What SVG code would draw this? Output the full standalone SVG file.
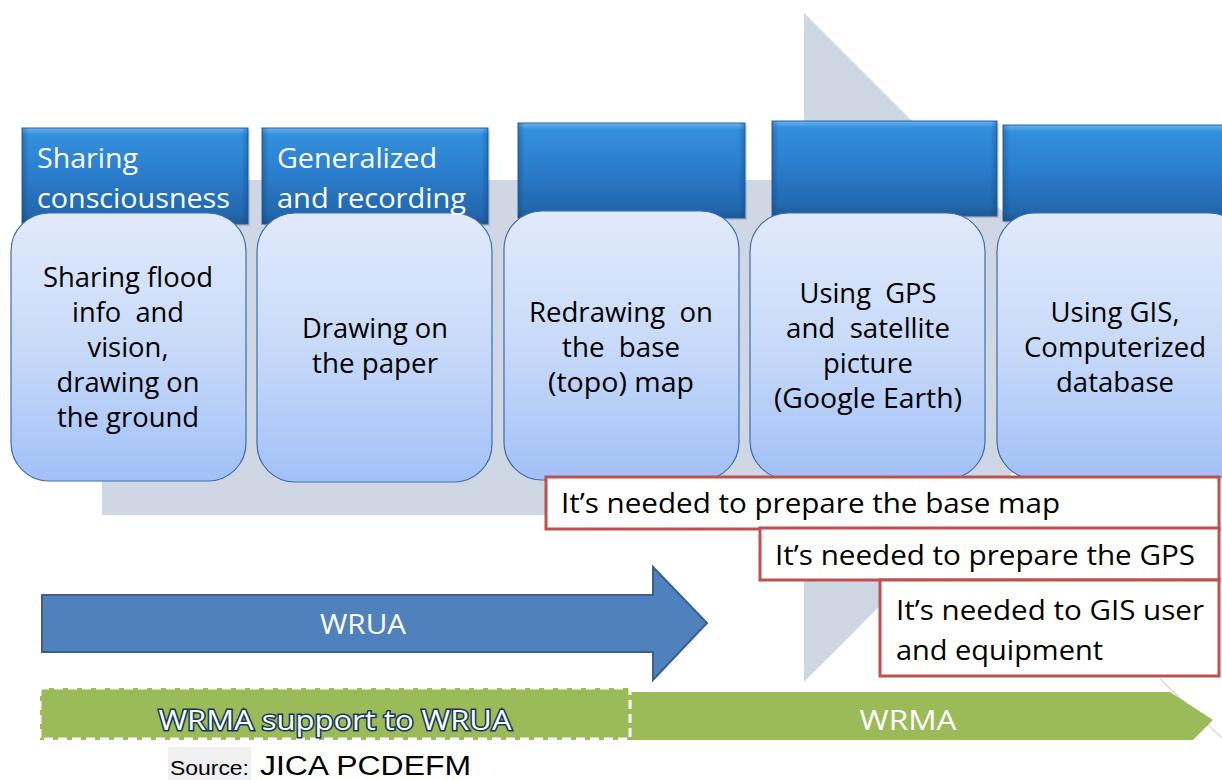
<svg xmlns="http://www.w3.org/2000/svg" width="1222" height="780" viewBox="0 0 1222 780">
<defs>
<linearGradient id="hdr" x1="0" y1="0" x2="0" y2="1">
<stop offset="0" stop-color="#6cb2ee"/>
<stop offset="0.07" stop-color="#3390de"/>
<stop offset="0.5" stop-color="#2a7ccb"/>
<stop offset="0.9" stop-color="#2267ad"/>
<stop offset="1" stop-color="#1c5895"/>
</linearGradient>
<linearGradient id="hedge" x1="0" y1="0" x2="1" y2="0">
<stop offset="0" stop-color="#0d3d70" stop-opacity="0.35"/>
<stop offset="0.03" stop-color="#0d3d70" stop-opacity="0"/>
<stop offset="0.97" stop-color="#0d3d70" stop-opacity="0"/>
<stop offset="1" stop-color="#0d3d70" stop-opacity="0.35"/>
</linearGradient>
<linearGradient id="card" x1="0" y1="0" x2="0" y2="1">
<stop offset="0" stop-color="#e1eafb"/>
<stop offset="0.5" stop-color="#c8daf9"/>
<stop offset="1" stop-color="#a2c1f8"/>
</linearGradient>
<style>
.hdr{fill:url(#hdr);stroke:#2465a8;stroke-width:1}
.hedge{fill:url(#hedge)}
.hsh{fill:#000;opacity:0.12}
.card{fill:url(#card);stroke:#3d6eae;stroke-width:1.2}
.ht{font-family:"Open Sans","Liberation Sans",sans-serif;font-size:28px;fill:#ffffff}
.ct{font-family:"Open Sans","Liberation Sans",sans-serif;font-size:27px;fill:#000;text-anchor:middle}
.red{fill:#fff;stroke:#c0504d;stroke-width:3}
.rt{font-family:"Open Sans","Liberation Sans",sans-serif;font-size:28px;fill:#000}
.wt{font-family:"Open Sans","Liberation Sans",sans-serif;font-size:28px;fill:#fff;text-anchor:middle}
</style>
</defs>
<rect width="1222" height="780" fill="#ffffff"/>
<g id="bg-arrow">
<polygon points="102,180 804,180 804,13 1138,347 804,682 804,515 102,515" fill="#cfd7e5"/>
</g>
<g id="step1">
<rect class="hsh" x="24" y="130" width="226" height="96"/>
<rect class="hdr" x="22" y="128" width="226" height="96"/>
<rect class="hedge" x="22" y="128" width="226" height="96"/>
<rect class="card" x="11" y="213" width="235" height="268" rx="38" ry="38"/>
<text class="ht" x="37" y="168" textLength="101" lengthAdjust="spacingAndGlyphs">Sharing</text>
<text class="ht" x="37" y="208" textLength="193" lengthAdjust="spacingAndGlyphs">consciousness</text>
<text class="ct" x="128" y="287" textLength="170" lengthAdjust="spacingAndGlyphs">Sharing flood</text>
<text class="ct" x="128" y="322" xml:space="preserve" textLength="112" lengthAdjust="spacingAndGlyphs">info  and</text>
<text class="ct" x="128" y="357" textLength="81" lengthAdjust="spacingAndGlyphs">vision,</text>
<text class="ct" x="128" y="392" textLength="143" lengthAdjust="spacingAndGlyphs">drawing on</text>
<text class="ct" x="128" y="427" textLength="142" lengthAdjust="spacingAndGlyphs">the ground</text>
</g>
<g id="step2">
<rect class="hsh" x="264" y="130" width="226" height="96"/>
<rect class="hdr" x="262" y="128" width="226" height="96"/>
<rect class="hedge" x="262" y="128" width="226" height="96"/>
<rect class="card" x="257" y="213" width="235" height="269" rx="38" ry="38"/>
<text class="ht" x="277" y="168" textLength="160" lengthAdjust="spacingAndGlyphs">Generalized</text>
<text class="ht" x="277" y="208" textLength="189" lengthAdjust="spacingAndGlyphs">and recording</text>
<text class="ct" x="375" y="338" textLength="146" lengthAdjust="spacingAndGlyphs">Drawing on</text>
<text class="ct" x="375" y="373" textLength="126" lengthAdjust="spacingAndGlyphs">the paper</text>
</g>
<g id="step3">
<rect class="hsh" x="520" y="125" width="227" height="95"/>
<rect class="hdr" x="518" y="123" width="227" height="95"/>
<rect class="hedge" x="518" y="123" width="227" height="95"/>
<rect class="card" x="504" y="211" width="235" height="269" rx="38" ry="38"/>
<text class="ct" x="621" y="322" xml:space="preserve" textLength="184" lengthAdjust="spacingAndGlyphs">Redrawing  on</text>
<text class="ct" x="621" y="357" xml:space="preserve" textLength="118" lengthAdjust="spacingAndGlyphs">the  base</text>
<text class="ct" x="621" y="392" textLength="146" lengthAdjust="spacingAndGlyphs">(topo) map</text>
</g>
<g id="step4">
<rect class="hsh" x="774" y="123" width="225" height="95"/>
<rect class="hdr" x="772" y="121" width="225" height="95"/>
<rect class="hedge" x="772" y="121" width="225" height="95"/>
<rect class="card" x="750" y="213" width="235" height="266" rx="38" ry="38"/>
<text class="ct" x="868" y="303" xml:space="preserve" textLength="137" lengthAdjust="spacingAndGlyphs">Using  GPS</text>
<text class="ct" x="868" y="338" xml:space="preserve" textLength="164" lengthAdjust="spacingAndGlyphs">and  satellite</text>
<text class="ct" x="868" y="373" textLength="90" lengthAdjust="spacingAndGlyphs">picture</text>
<text class="ct" x="868" y="408" textLength="188" lengthAdjust="spacingAndGlyphs">(Google Earth)</text>
</g>
<g id="step5">
<rect class="hsh" x="1005" y="127" width="230" height="96"/>
<rect class="hdr" x="1003" y="125" width="230" height="96"/>
<rect class="hedge" x="1003" y="125" width="230" height="96"/>
<rect class="card" x="997" y="213" width="250" height="266" rx="38" ry="38"/>
<text class="ct" x="1115" y="322" textLength="129" lengthAdjust="spacingAndGlyphs">Using GIS,</text>
<text class="ct" x="1115" y="357" textLength="182" lengthAdjust="spacingAndGlyphs">Computerized</text>
<text class="ct" x="1115" y="392" textLength="118" lengthAdjust="spacingAndGlyphs">database</text>
</g>
<g id="note-basemap">
<rect class="red" x="546" y="477" width="673" height="52"/>
<text class="rt" x="561" y="513" textLength="499" lengthAdjust="spacingAndGlyphs">It’s needed to prepare the base map</text>
</g>
<g id="note-gps">
<rect class="red" x="760" y="528" width="459" height="52"/>
<text class="rt" x="775" y="565" textLength="420" lengthAdjust="spacingAndGlyphs">It’s needed to prepare the GPS</text>
</g>
<g id="note-gis">
<rect class="red" x="880" y="580" width="339" height="96"/>
<text class="rt" x="896" y="620" textLength="308" lengthAdjust="spacingAndGlyphs">It’s needed to GIS user</text>
<text class="rt" x="896" y="660" textLength="207" lengthAdjust="spacingAndGlyphs">and equipment</text>
</g>
<g id="connectors">
<g id="wrua">
<path d="M42,595 L653,595 L653,567 L707,623 L653,680 L653,652 L42,652 Z" fill="#4f81bd" stroke="#3a5f8f" stroke-width="2"/>
<text class="wt" x="363" y="634" font-size="27" textLength="86" lengthAdjust="spacingAndGlyphs">WRUA</text>
</g>
<g id="wrma">
<path d="M1160,679 L1222,738" fill="none" stroke="#dadada" stroke-width="1.5"/>
<path d="M40,692 L1170,692 L1213,720 L1193,740 L40,740 Z" fill="#9bbb59"/>
<path d="M632,688 L1160,688 L1160,680" fill="none" stroke="#ffffff" stroke-width="2"/>
<rect x="40" y="688" width="590" height="51" fill="#9bbb59" stroke="#ffffff" stroke-width="3" stroke-dasharray="9,5"/>
<text class="wt" x="335" y="730" stroke="#17375e" stroke-width="3" paint-order="stroke" textLength="353" lengthAdjust="spacingAndGlyphs">WRMA support to WRUA</text>
<text class="wt" x="908" y="730" textLength="97" lengthAdjust="spacingAndGlyphs">WRMA</text>
</g>
</g>
<g id="source">
<rect x="168" y="747" width="83" height="33" fill="#f0f0f0"/>
<text x="170" y="775" font-family="Liberation Sans, Arial, sans-serif" font-size="20" textLength="79" lengthAdjust="spacingAndGlyphs" fill="#000">Source:</text>
<text x="260" y="775" font-family="Liberation Sans, Arial, sans-serif" font-size="27" textLength="211" lengthAdjust="spacingAndGlyphs" fill="#000">JICA PCDEFM</text>
</g>
</svg>
